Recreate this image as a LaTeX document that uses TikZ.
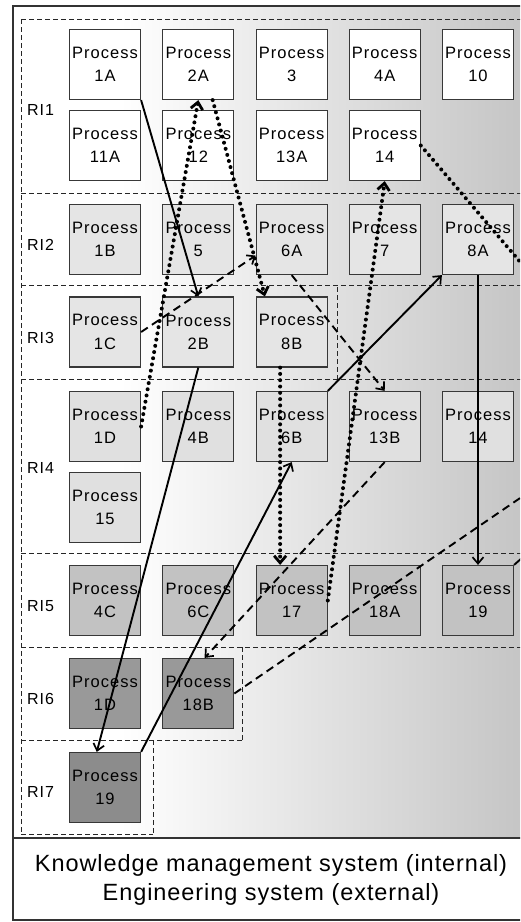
\documentclass[tikz,border=0pt]{standalone}
\usepackage{fontspec}
\setmainfont[LetterSpace=6]{Liberation Sans}
\newfontfamily\capfont[LetterSpace=4]{Liberation Sans}
\usetikzlibrary{arrows.meta}

\begin{document}
\begin{tikzpicture}[x=1pt, y=-1pt,
  proc/.style={draw=black!78, line width=1.2pt, minimum width=71, minimum height=70,
    inner sep=0pt, align=center, font=\fontsize{16.5}{23.3}\selectfont},
  lane/.style={draw=black!85, line width=0.9pt, dash pattern=on 5pt off 3pt},
  lanelabel/.style={anchor=west, inner sep=0pt, font=\fontsize{16}{18}\selectfont},
  solidline/.style={line width=1.9pt},
  solidflow/.style={solidline, -{Straight Barb[length=6.5pt, width=11pt, line width=1.7pt]}},
  dashline/.style={line width=1.9pt, dash pattern=on 8pt off 5pt},
  dashflow/.style={dashline, -{Straight Barb[length=6.5pt, width=11pt, line width=1.7pt]}},
  dotline/.style={line width=4pt, line cap=round, dash pattern=on 0pt off 6.3pt},
  dotflow/.style={dotline, -{Straight Barb[length=7pt, width=12pt, line width=2.8pt]}}
]

\useasboundingbox (0,0) rectangle (520,922);
\clip (0,0) rectangle (520,922);

% Background
\fill[white] (0,0) rectangle (520,922);
\shade[left color=white, right color=black!24]
(120,6)
rectangle
(545,838);

% Outer frame
\draw[line width=1.4pt, black!80]
(13,6)
rectangle
(560,920);
\draw[line width=1.4pt, black!80]
(13,838)
--
(560,838);

% Lanes (borders drawn from the left so shared edges keep one dash phase)
\draw[lane] (21,19) -- (560,19);
\draw[lane] (21,193) -- (560,193);
\draw[lane] (21,285) -- (560,285);
\draw[lane] (21,379) -- (560,379);
\draw[lane] (21,553) -- (560,553);
\draw[lane] (21,647) -- (560,647);
\draw[lane] (21,740) -- (242,740);
\draw[lane] (21,834) -- (153,834);
\draw[lane] (21,19) -- (21,834);
\draw[lane] (337,287) -- (337,379);
\draw[lane] (242,647) -- (242,740);
\draw[lane] (153,740) -- (153,834);

\node[lanelabel] (ri1) at (27,110) {RI1};
\node[lanelabel] (ri2) at (27,245) {RI2};
\node[lanelabel] (ri3) at (27,337.5) {RI3};
\node[lanelabel] (ri4) at (27,468) {RI4};
\node[lanelabel] (ri5) at (27,606) {RI5};
\node[lanelabel] (ri6) at (27,699) {RI6};
\node[lanelabel] (ri7) at (27,792) {RI7};

% RI1
\node[proc, fill=white] (p1A) at (105,64.5) {Process\\1A};
\node[proc, fill=white] (p2A) at (198.3,64.5) {Process\\2A};
\node[proc, fill=white] (p3) at (291.7,64.5) {Process\\3};
\node[proc, fill=white] (p4A) at (384.7,64.5) {Process\\4A};
\node[proc, fill=white] (p10) at (478,64.5) {Process\\10};
\node[proc, fill=white] (p11A) at (105,145.5) {Process\\11A};
\node[proc, fill=white] (p12) at (198.3,145.5) {Process\\12};
\node[proc, fill=white] (p13A) at (291.7,145.5) {Process\\13A};
\node[proc, fill=white] (p14a) at (384.7,145.5) {Process\\14};

% RI2
\node[proc, fill=black!10] (p1B) at (105,239.5) {Process\\1B};
\node[proc, fill=black!10] (p5) at (198.3,239.5) {Process\\5};
\node[proc, fill=black!10] (p6A) at (291.7,239.5) {Process\\6A};
\node[proc, fill=black!10] (p7) at (384.7,239.5) {Process\\7};
\node[proc, fill=black!10] (p8A) at (478,239.5) {Process\\8A};

% RI3
\node[proc, fill=black!10] (p1C) at (105,332) {Process\\1C};
\node[proc, fill=black!10] (p2B) at (198.3,332) {Process\\2B};
\node[proc, fill=black!10] (p8B) at (291.7,332) {Process\\8B};

% RI4
\node[proc, fill=black!12] (p1D) at (105,426.5) {Process\\1D};
\node[proc, fill=black!12] (p4B) at (198.3,426.5) {Process\\4B};
\node[proc, fill=black!12] (p6B) at (291.7,426.5) {Process\\6B};
\node[proc, fill=black!12] (p13B) at (384.7,426.5) {Process\\13B};
\node[proc, fill=black!12] (p14b) at (478,426.5) {Process\\14};
\node[proc, fill=black!12] (p15) at (105,507.5) {Process\\15};

% RI5
\node[proc, fill=black!24] (p4C) at (105,600.5) {Process\\4C};
\node[proc, fill=black!24] (p6C) at (198.3,600.5) {Process\\6C};
\node[proc, fill=black!24] (p17) at (291.7,600.5) {Process\\17};
\node[proc, fill=black!24] (p18A) at (384.7,600.5) {Process\\18A};
\node[proc, fill=black!24] (p19a) at (478,600.5) {Process\\19};

% RI6
\node[proc, fill=black!40] (p1Db) at (105,693.5) {Process\\1D};
\node[proc, fill=black!40] (p18B) at (198.3,693.5) {Process\\18B};

% RI7
\node[proc, fill=black!45] (p19b) at (105,787.5) {Process\\19};

% Free ends beyond the right edge
\coordinate (out14) at (545,291);
\coordinate (out18B) at (545,481);
\coordinate (out19) at (540,542);

% Solid flows
\draw[solidflow] (p1A.south east) -- (p2B.north);
\draw[solidflow] (p6B.north east) -- (p8A.south west);
\draw[solidflow] (p8A.south) -- (p19a.north);
\draw[solidflow] (p2B.south) -- (p19b.103);
\draw[solidflow] (p19b.north east) -- (p6B.south);
\draw[solidline] (p19a.north east) -- (out19);

% Dashed flows
\draw[dashflow] (p1C.east) -- (p6A.204);
\draw[dashflow] (p6A.south) -- (p13B.north);
\draw[dashflow] (p13B.south) -- (p18B.80);
\draw[dashline] (p18B.east) -- (out18B);

% Dotted flows
\draw[dotflow] (p1D.east) -- (p2A.south);
\draw[dotflow] (p2A.-68) -- (p8B.127);
\draw[dotflow] (p8B.-108) -- (p17.108);
\draw[dotflow] (p17.east) -- (p14a.south);
\draw[dotline] (p14a.east) -- (out14);

% Caption
\node[align=center, font=\capfont\fontsize{23.5}{29}\selectfont]
(caption) at (271,880)
{Knowledge management system (internal)\\Engineering system (external)};

\end{tikzpicture}
\end{document}
